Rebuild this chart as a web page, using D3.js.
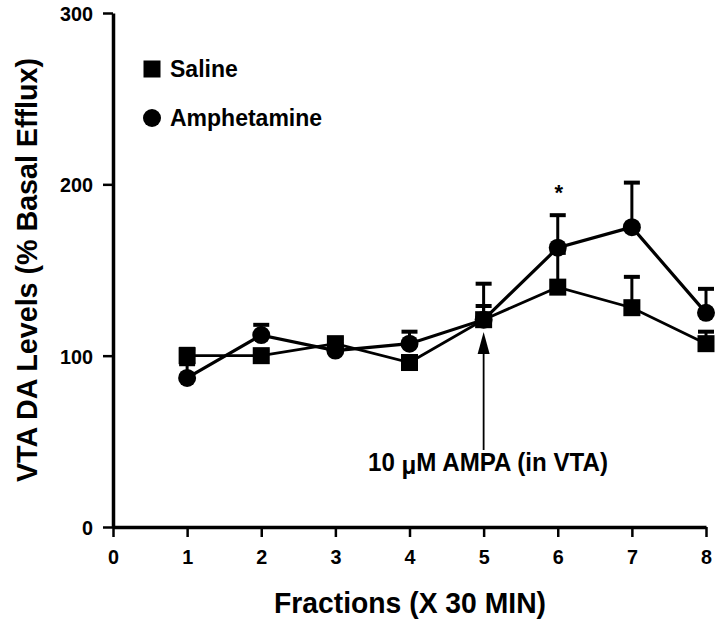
<!DOCTYPE html>
<html>
	<head>
		<meta charset = "utf-8">
		<script src = "https://d3js.org/d3.v7.min.js"></script>
		<style>
			body { margin: 0; background: #fff; }
		</style>
	</head>
	<body>
		<script>
			// Datos
			var fractions = [1, 2, 3, 4, 5, 6, 7, 8];
			var saline = [100, 100, 107, 96, 121, 140, 128, 107];
			var salineErr = [4, 3, 3, 3, 8, 20, 18, 7];
			var amphetamine = [87, 112, 103, 107, 121, 163, 175, 125];
			var amphetamineErr = [8, 6, 4, 7, 21, 19, 26, 14];
			var xTicks = [0, 1, 2, 3, 4, 5, 6, 7, 8];
			var yTicks = [0, 100, 200, 300];

			var width = 720, height = 629;
			var font = "'Liberation Sans', Arial, sans-serif";

			var x = d3.scaleLinear().domain([0, 8]).range([113, 706]);
			var y = d3.scaleLinear().domain([0, 300]).range([527, 13]);

			var svg = d3.select("body")
				.append("svg")
				.attr("width", width)
				.attr("height", height);

			// Ejes
			var xAxis = svg.append("g")
				.attr("transform", "translate(0," + y(0) + ")")
				.call(d3.axisBottom(x).tickValues(xTicks).tickSize(10).tickSizeOuter(0).tickPadding(9));
			var yAxis = svg.append("g")
				.attr("transform", "translate(" + x(0) + ",0)")
				.call(d3.axisLeft(y).tickValues(yTicks).tickSize(10).tickSizeOuter(0).tickPadding(10));

			[xAxis, yAxis].forEach(function(a){
				a.select(".domain").attr("stroke", "#000").attr("stroke-width", 3.5);
				a.selectAll(".tick line").attr("stroke", "#000").attr("stroke-width", 2.5);
				a.selectAll(".tick text")
					.attr("fill", "#000")
					.style("font-family", font)
					.style("font-weight", "bold")
					.style("font-size", "21px")
					.attr("textLength", function(d){ return String(d).length * 11; })
					.attr("lengthAdjust", "spacingAndGlyphs");
			});
			xAxis.selectAll(".tick text").attr("dy", "0.85em");
			yAxis.selectAll(".tick text").attr("dy", "0.36em");

			// Títulos de los ejes
			svg.append("text")
				.attr("transform", "translate(37,270) rotate(-90)")
				.attr("text-anchor", "middle")
				.attr("textLength", 424)
				.attr("lengthAdjust", "spacingAndGlyphs")
				.style("font-family", font)
				.style("font-weight", "bold")
				.style("font-size", "29px")
				.text("VTA DA Levels (% Basal Efflux)");

			svg.append("text")
				.attr("x", 410)
				.attr("y", 613)
				.attr("text-anchor", "middle")
				.attr("textLength", 272)
				.attr("lengthAdjust", "spacingAndGlyphs")
				.style("font-family", font)
				.style("font-weight", "bold")
				.style("font-size", "29px")
				.text("Fractions (X 30 MIN)");

			var series = [
				{ name: "Saline", values: saline, err: salineErr, shape: "square", lw: 2.8 },
				{ name: "Amphetamine", values: amphetamine, err: amphetamineErr, shape: "circle", lw: 3.2 }
			];

			var line = d3.line()
				.x(function(d, i){ return x(fractions[i]); })
				.y(function(d){ return y(d); });

			// Barras de error (solo hacia arriba)
			series.forEach(function(s){
				var g = svg.append("g");
				s.values.forEach(function(v, i){
					var cx = x(fractions[i]);
					g.append("line")
						.attr("x1", cx).attr("x2", cx)
						.attr("y1", y(v)).attr("y2", y(v + s.err[i]))
						.attr("stroke", "#000").attr("stroke-width", 3);
					g.append("line")
						.attr("x1", cx - 8).attr("x2", cx + 8)
						.attr("y1", y(v + s.err[i])).attr("y2", y(v + s.err[i]))
						.attr("stroke", "#000").attr("stroke-width", 4);
				});
			});

			// Líneas
			series.forEach(function(s){
				svg.append("path")
					.datum(s.values)
					.attr("d", line)
					.attr("fill", "none")
					.attr("stroke", "#000")
					.attr("stroke-width", s.lw);
			});

			// Marcadores
			function drawMarker(g, shape, cx, cy){
				if(shape == "square"){
					g.append("rect")
						.attr("x", cx - 8.5).attr("y", cy - 8.5)
						.attr("width", 17).attr("height", 17)
						.attr("fill", "#000");
				} else {
					g.append("circle")
						.attr("cx", cx).attr("cy", cy).attr("r", 9)
						.attr("fill", "#000");
				}
			}

			series.forEach(function(s){
				var g = svg.append("g");
				s.values.forEach(function(v, i){
					drawMarker(g, s.shape, x(fractions[i]), y(v));
				});
			});

			// Leyenda
			series.forEach(function(s, i){
				var ly = 69 + i * 49;
				drawMarker(svg, s.shape, 152, ly);
				svg.append("text")
					.attr("x", 170)
					.attr("y", ly)
					.attr("dy", "0.36em")
					.style("font-family", font)
					.style("font-weight", "bold")
					.style("font-size", "23px")
					.text(s.name);
			});

			// Asterisco en la fracción 6
			svg.append("text")
				.attr("x", x(6) + 1)
				.attr("y", 200)
				.attr("text-anchor", "middle")
				.style("font-family", font)
				.style("font-weight", "bold")
				.style("font-size", "22px")
				.text("*");

			// Flecha de AMPA
			svg.append("line")
				.attr("x1", x(5)).attr("x2", x(5))
				.attr("y1", 450).attr("y2", 345)
				.attr("stroke", "#000").attr("stroke-width", 1.8);

			svg.append("path")
				.attr("d", "M" + x(5) + ",332L" + (x(5) - 6) + ",354L" + (x(5) + 6) + ",354Z")
				.attr("fill", "#000");

			var amp = svg.append("text")
				.attr("x", 488)
				.attr("y", 471)
				.attr("text-anchor", "middle")
				.attr("textLength", 240)
				.attr("lengthAdjust", "spacingAndGlyphs")
				.style("font-family", font)
				.style("font-weight", "bold")
				.style("font-size", "25px");
			amp.append("tspan").text("10 ");
			amp.append("tspan").attr("dy", 3).text("\u03bc");
			amp.append("tspan").attr("dy", -3).text("M AMPA (in VTA)");
		</script>
	</body>
</html>
